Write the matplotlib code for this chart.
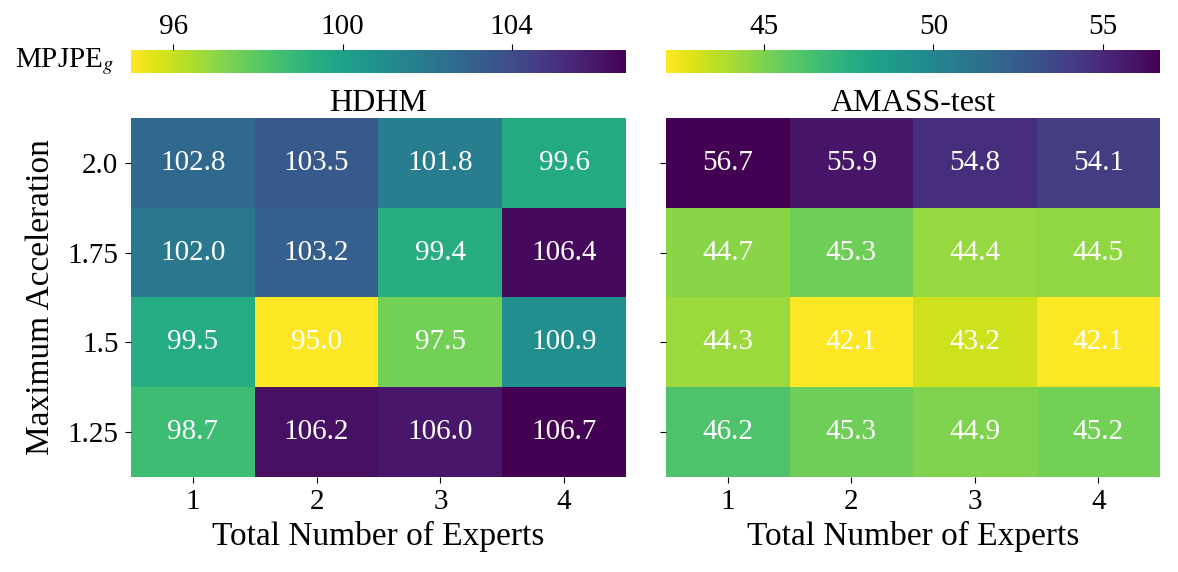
import numpy as np
from matplotlib import pyplot as plt

plt.rcParams['font.family'] = ['Liberation Serif', 'DejaVu Serif']
plt.rcParams['mathtext.fontset'] = 'stix'

experts = [1, 2, 3, 4]
accel_labels = ["2.0", "1.75", "1.5", "1.25"]

hdhm = np.array([
    [102.8, 103.5, 101.8, 99.6],
    [102.0, 103.2, 99.4, 106.4],
    [99.5, 95.0, 97.5, 100.9],
    [98.7, 106.2, 106.0, 106.7],
])
amass = np.array([
    [56.7, 55.9, 54.8, 54.1],
    [44.7, 45.3, 44.4, 44.5],
    [44.3, 42.1, 43.2, 42.1],
    [46.2, 45.3, 44.9, 45.2],
])

hdhm_ticks = [96, 100, 104]
amass_ticks = [45, 50, 55]


def draw_panel(fig, ax_rect, cb_rect, data, title, cticks, show_ylabels):
    ax = fig.add_axes(ax_rect)
    cax = fig.add_axes(cb_rect)
    mesh = ax.pcolormesh(data, cmap='viridis_r', vmin=data.min(), vmax=data.max())
    ax.set_xlim(0, data.shape[1])
    ax.set_ylim(data.shape[0], 0)
    for i in range(data.shape[0]):
        for j in range(data.shape[1]):
            ax.text(j + 0.5, i + 0.5, f"{data[i, j]:.1f}", ha='center', va='center',
                    color='white', fontsize=21)
    ax.set_xticks(np.arange(len(experts)) + 0.5)
    ax.set_xticklabels([str(e) for e in experts])
    ax.set_yticks(np.arange(len(accel_labels)) + 0.5)
    if show_ylabels:
        ax.set_yticklabels(accel_labels)
        ax.set_ylabel("Maximum Acceleration", fontsize=24, labelpad=8)
    else:
        ax.set_yticklabels([])
    ax.tick_params(labelsize=21, length=4, pad=5)
    for s in ax.spines.values():
        s.set_visible(False)
    ax.set_xlabel("Total Number of Experts", fontsize=24, labelpad=4)
    ax.set_title(title, fontsize=23, pad=4)

    cb = fig.colorbar(mesh, cax=cax, orientation='horizontal')
    cb.outline.set_visible(False)
    cb.set_ticks(cticks)
    cax.xaxis.set_ticks_position('top')
    cax.tick_params(labelsize=21, length=4, pad=3)
    return ax, cax


fig = plt.figure(figsize=(11.78, 5.72), dpi=100)

ax1, cax1 = draw_panel(fig, [0.1112, 0.1661, 0.4202, 0.6276], [0.1112, 0.8724, 0.4202, 0.0402],
                       hdhm, "HDHM", hdhm_ticks, True)
ax2, cax2 = draw_panel(fig, [0.5654, 0.1661, 0.4194, 0.6276], [0.5654, 0.8724, 0.4194, 0.0402],
                       amass, "AMASS-test", amass_ticks, False)

fig.text(0.097, 0.893, r"MPJPE$_g$", ha='right', va='center', fontsize=21)

fig.savefig("out.png", dpi=100)
